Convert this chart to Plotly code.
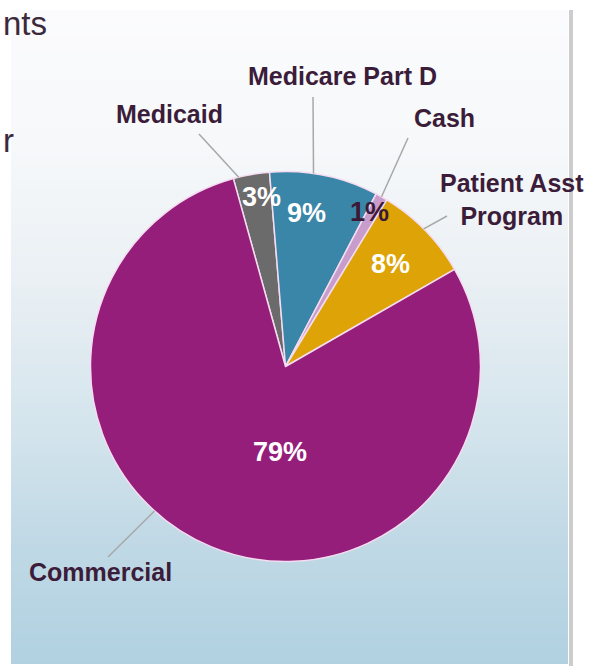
import math
import plotly.graph_objects as go

# ---------------- data ----------------
categories = ["Medicaid", "Medicare Part D", "Cash", "Patient Asst<br>Program", "Commercial"]
shares = [3, 9, 1, 8, 79]

# ---------------- style ----------------
slice_colors = ["#6b6b6b", "#3a86a8", "#c89dcc", "#dea306", "#961e7b"]
pct_colors = ["#ffffff", "#ffffff", "#3b1a38", "#ffffff", "#ffffff"]
label_color = "#3b1d3a"
FONT = "Liberation Sans, Arial, sans-serif"

W, H = 593, 666
CX, CY, R = 285.5, 366.5, 195.0
START = -15.5  # degrees clockwise from 12 o'clock

label_pos = [(169, 114), (342, 76), (444, 118), (512, 199), (100, 572)]
leader_frac = [0.15, 0.40, 0.5, 0.48, 0.57]
leader_outer = [(199, 134), (313, 97), (408, 138), (447, 216), (108, 557)]
pct_place = [(0.68, 0.88), (0.39, 0.795), (0.22, 0.90), (0.50, 0.75), (0.435, 0.44)]

bg_stops = [(10, "#fbfbfd"), (150, "#f6f8fa"), (280, "#eaf0f4"),
            (420, "#d5e5ed"), (550, "#bfd8e5"), (664, "#b1d1e1")]
PANEL_X0, PANEL_X1 = 11, 568


def px(x):
    return x / W


def py(y):
    return 1 - y / H


def hex2rgb(h):
    h = h.lstrip("#")
    return tuple(int(h[i:i + 2], 16) for i in (0, 2, 4))


def bg_color(y):
    for (y0, c0), (y1, c1) in zip(bg_stops[:-1], bg_stops[1:]):
        if y0 <= y <= y1:
            t = (y - y0) / (y1 - y0)
            a, b = hex2rgb(c0), hex2rgb(c1)
            return "rgb(%d,%d,%d)" % tuple(round(a[i] + (b[i] - a[i]) * t) for i in range(3))
    return bg_stops[-1][1]


# slice angles derived from data
total = float(sum(shares))
angles = []
acc = START
for v in shares:
    span = v / total * 360.0
    angles.append((acc, span))
    acc += span


def polar(angle_deg, rr):
    a = math.radians(angle_deg)
    return CX + rr * math.sin(a), CY - rr * math.cos(a)


fig = go.Figure()
fig.add_trace(go.Pie(
    labels=categories,
    values=shares,
    sort=False,
    direction="clockwise",
    rotation=START,
    textinfo="none",
    hoverinfo="label+percent",
    marker=dict(colors=slice_colors, line=dict(color="#f5dcf0", width=1.5)),
    domain=dict(x=[px(CX - R), px(CX + R)], y=[py(CY + R), py(CY - R)]),
    showlegend=False,
))

shapes = []
# background gradient panel
step = 3
y = 10
while y < 664:
    shapes.append(dict(type="rect", xref="paper", yref="paper", layer="below",
                       x0=px(PANEL_X0), x1=px(PANEL_X1), y0=py(min(y + step, 664)), y1=py(y),
                       line=dict(width=0), fillcolor=bg_color(y + step / 2)))
    y += step
# right frame line
shapes.append(dict(type="rect", xref="paper", yref="paper", layer="below",
                   x0=px(569), x1=px(573), y0=py(666), y1=py(10),
                   line=dict(width=0), fillcolor="#cdcdcd"))

# leader lines
for (a0, span), f, (ox, oy) in zip(angles, leader_frac, leader_outer):
    ix, iy = polar(a0 + f * span, R)
    shapes.append(dict(type="line", xref="paper", yref="paper",
                       x0=px(ix), y0=py(iy), x1=px(ox), y1=py(oy),
                       line=dict(color="#a8a8a8", width=1.5)))

annotations = []
for cat, (lx, ly) in zip(categories, label_pos):
    annotations.append(dict(text=cat, x=px(lx), y=py(ly), xref="paper", yref="paper",
                            showarrow=False, xanchor="center", yanchor="middle", align="center",
                            font=dict(family=FONT, size=25, color=label_color, weight="bold")))

for v, (a0, span), (f, rf), col in zip(shares, angles, pct_place, pct_colors):
    tx, ty = polar(a0 + f * span, rf * R)
    annotations.append(dict(text=f"{v}%", x=px(tx), y=py(ty), xref="paper", yref="paper",
                            showarrow=False, xanchor="center", yanchor="middle",
                            font=dict(family=FONT, size=27, color=col, weight="bold")))

# cut-off slide text at left
annotations.append(dict(text="nts", x=px(49), y=py(24), xref="paper", yref="paper",
                        showarrow=False, xanchor="right", yanchor="middle",
                        font=dict(family=FONT, size=33, color="#3b2a3b")))
annotations.append(dict(text="r", x=px(1), y=py(140), xref="paper", yref="paper",
                        showarrow=False, xanchor="left", yanchor="middle",
                        font=dict(family=FONT, size=33, color="#3b2a3b")))

fig.update_layout(
    width=W, height=H,
    margin=dict(l=0, r=0, t=0, b=0),
    paper_bgcolor="#ffffff",
    plot_bgcolor="#ffffff",
    shapes=shapes,
    annotations=annotations,
)

fig.write_html("out.html", config={"displayModeBar": False},
               post_script="document.body.style.margin='0';document.body.style.overflow='hidden';")
